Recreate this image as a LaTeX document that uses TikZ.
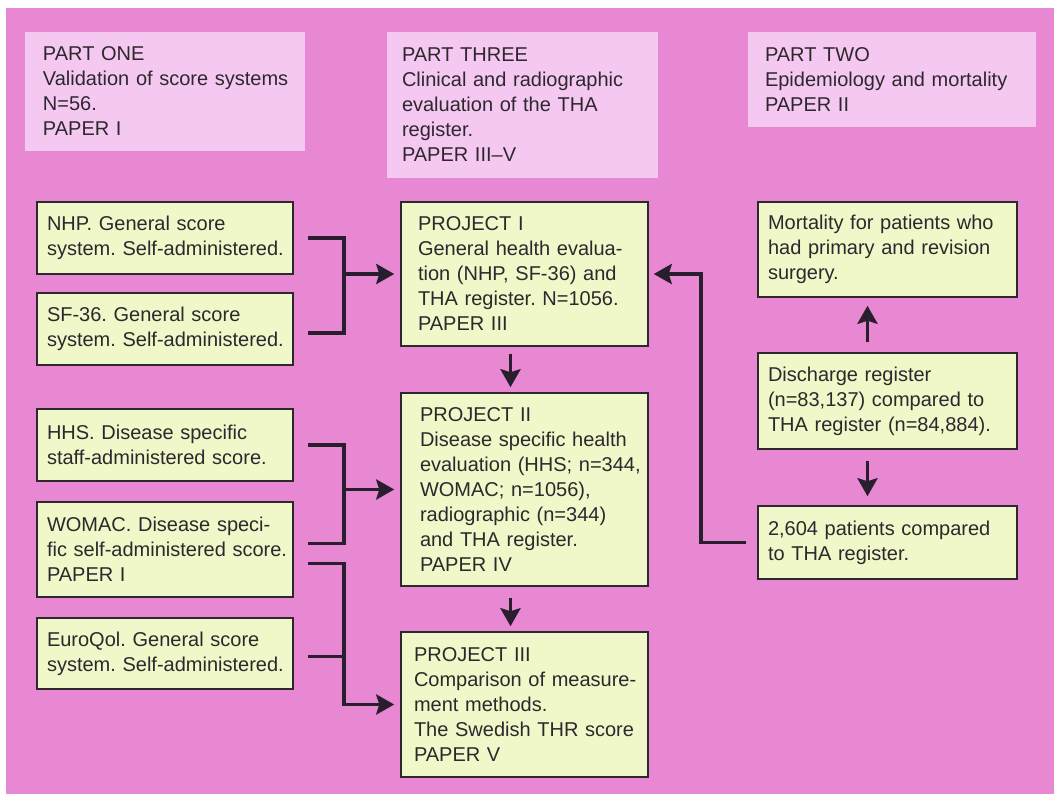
\documentclass[tikz,border=0pt]{standalone}
\usepackage{fontspec}
\setmainfont{Liberation Sans}
\usetikzlibrary{arrows.meta}
\definecolor{bgpink}{RGB}{232,136,210}
\definecolor{hdrpink}{RGB}{245,200,242}
\definecolor{boxgreen}{RGB}{240,247,200}
\definecolor{ink}{RGB}{45,40,45}
\definecolor{lineink}{RGB}{40,30,45}
\tikzset{
  txt/.style={font=\fontsize{20}{25}\selectfont\frenchspacing, text=ink, align=left, inner xsep=2pt, inner ysep=0pt},
  hdr/.style={txt, fill=hdrpink},
  gbox/.style={txt, fill=boxgreen, draw=ink, line width=1.5pt},
  lpad/.style={execute at begin node={\leftskip=#1pt\relax}},
  dims/.style n args={2}{minimum width=#1, text width={#1-4}, minimum height=#2},
  bline/.style={draw=lineink, line width=3.8pt},
  aline/.style={bline, -{Stealth[length=18pt,width=20pt,inset=3pt]}},
}
\begin{document}
\begin{tikzpicture}[x=1pt,y=-1pt]
\useasboundingbox (0,0) rectangle (1054,794);
\fill[white] (0,0) rectangle (1054,794);
\fill[bgpink] (6,8) rectangle (1054,794);

% headers
\node[hdr, dims={280}{119}, lpad=16] (h1) at (165,91.5)
  {PART ONE\\Validation of score systems\\N=56.\\PAPER I};
\node[hdr, dims={271}{146}, lpad=13] (h3) at (522.5,105)
  {PART THREE\\Clinical and radiographic\\evaluation of the THA\\register.\\PAPER III--V};
\node[hdr, dims={288}{95}, lpad=15] (h2) at (892,79.5)
  {PART TWO\\Epidemiology and mortality\\PAPER II};

% left column
\node[gbox, dims={256}{72}, lpad=8] (nhp) at (165,238)
  {NHP. General score\\system. Self-administered.};
\node[gbox, dims={256}{72}, lpad=8] (sf) at (165,329)
  {SF-36. General score\\system. Self-administered.};
\node[gbox, dims={256}{72}, lpad=8] (hhs) at (165,445)
  {HHS. Disease specific\\staff-administered score.};
\node[gbox, dims={256}{95}, lpad=8] (womac) at (165,549.5)
  {WOMAC. Disease speci-\\fic self-administered score.\\PAPER I};
\node[gbox, dims={256}{71}, lpad=8] (euro) at (165,653.5)
  {EuroQol. General score\\system. Self-administered.};

% middle column
\node[gbox, dims={247}{144}, lpad=15] (p1) at (524.5,274)
  {PROJECT I\\General health evalua-\\tion (NHP, SF-36) and\\THA register. N=1056.\\PAPER III};
\node[gbox, dims={247}{193}, lpad=17] (p2) at (524.5,489.5)
  {PROJECT II\\Disease specific health\\evaluation (HHS; n=344,\\WOMAC; n=1056),\\radiographic (n=344)\\and THA register.\\PAPER IV};
\node[gbox, dims={247}{145}, lpad=11] (p3) at (524.5,704.5)
  {PROJECT III\\Comparison of measure-\\ment methods.\\The Swedish THR score\\PAPER V};

% right column
\node[gbox, dims={259}{95}, lpad=8] (mort) at (887.5,249.5)
  {Mortality for patients who\\had primary and revision\\surgery.};
\node[gbox, dims={259}{96}, lpad=8] (disc) at (887.5,401)
  {Discharge register\\(n=83,137) compared to\\THA register (n=84,884).};
\node[gbox, dims={259}{73}, lpad=8] (pat) at (887.5,542.5)
  {2,604 patients compared\\to THA register.};

% junction coordinates
\coordinate (j1) at ([xshift=50pt]nhp.east);
\coordinate (j2) at ([xshift=50pt]hhs.east);
\coordinate (j3) at ([xshift=50pt]womac.east);
\coordinate (w1) at ([shift={(14pt,6pt)}]womac.east);
\coordinate (w2) at ([shift={(14pt,-14pt)}]womac.east);

% bracket 1
\draw[bline] ([xshift=14pt]nhp.east) -| ([shift={(50pt,-4pt)}]sf.east) -- ([shift={(14pt,-4pt)}]sf.east);
\draw[aline, shorten >=6pt] (j1 |- p1.west) -- (p1.west);
% bracket 2
\draw[bline] ([xshift=14pt]hhs.east) -| (j2 |- w1) -- (w1);
\draw[aline, shorten >=6pt] (j2 |- p2.west) -- (p2.west);
% bracket 3
\draw[aline, shorten >=6pt] (w2) -- (w2 -| j3) |- (p3.west);
\draw[bline] ([shift={(14pt,-3pt)}]euro.east) -- ([yshift=-3pt]euro.east -| j3);

% middle arrows
\draw[aline, shorten <=7pt, shorten >=5pt] ([xshift=-14pt]p1.south) -- ([xshift=-14pt]p2.north);
\draw[aline, shorten <=11pt, shorten >=5pt] ([xshift=-14pt]p2.south) -- ([xshift=-14pt]p3.north);

% right arrows
\draw[aline, shorten <=10pt, shorten >=8pt] ([xshift=-20pt]disc.north) -- ([xshift=-20pt]mort.south);
\draw[aline, shorten <=11pt, shorten >=9pt] ([xshift=-20pt]disc.south) -- ([xshift=-20pt]pat.north);
\draw[aline, shorten <=11pt, shorten >=5pt] (pat.west) -- ++(-56pt,0) |- (p1.east);
\end{tikzpicture}
\end{document}
